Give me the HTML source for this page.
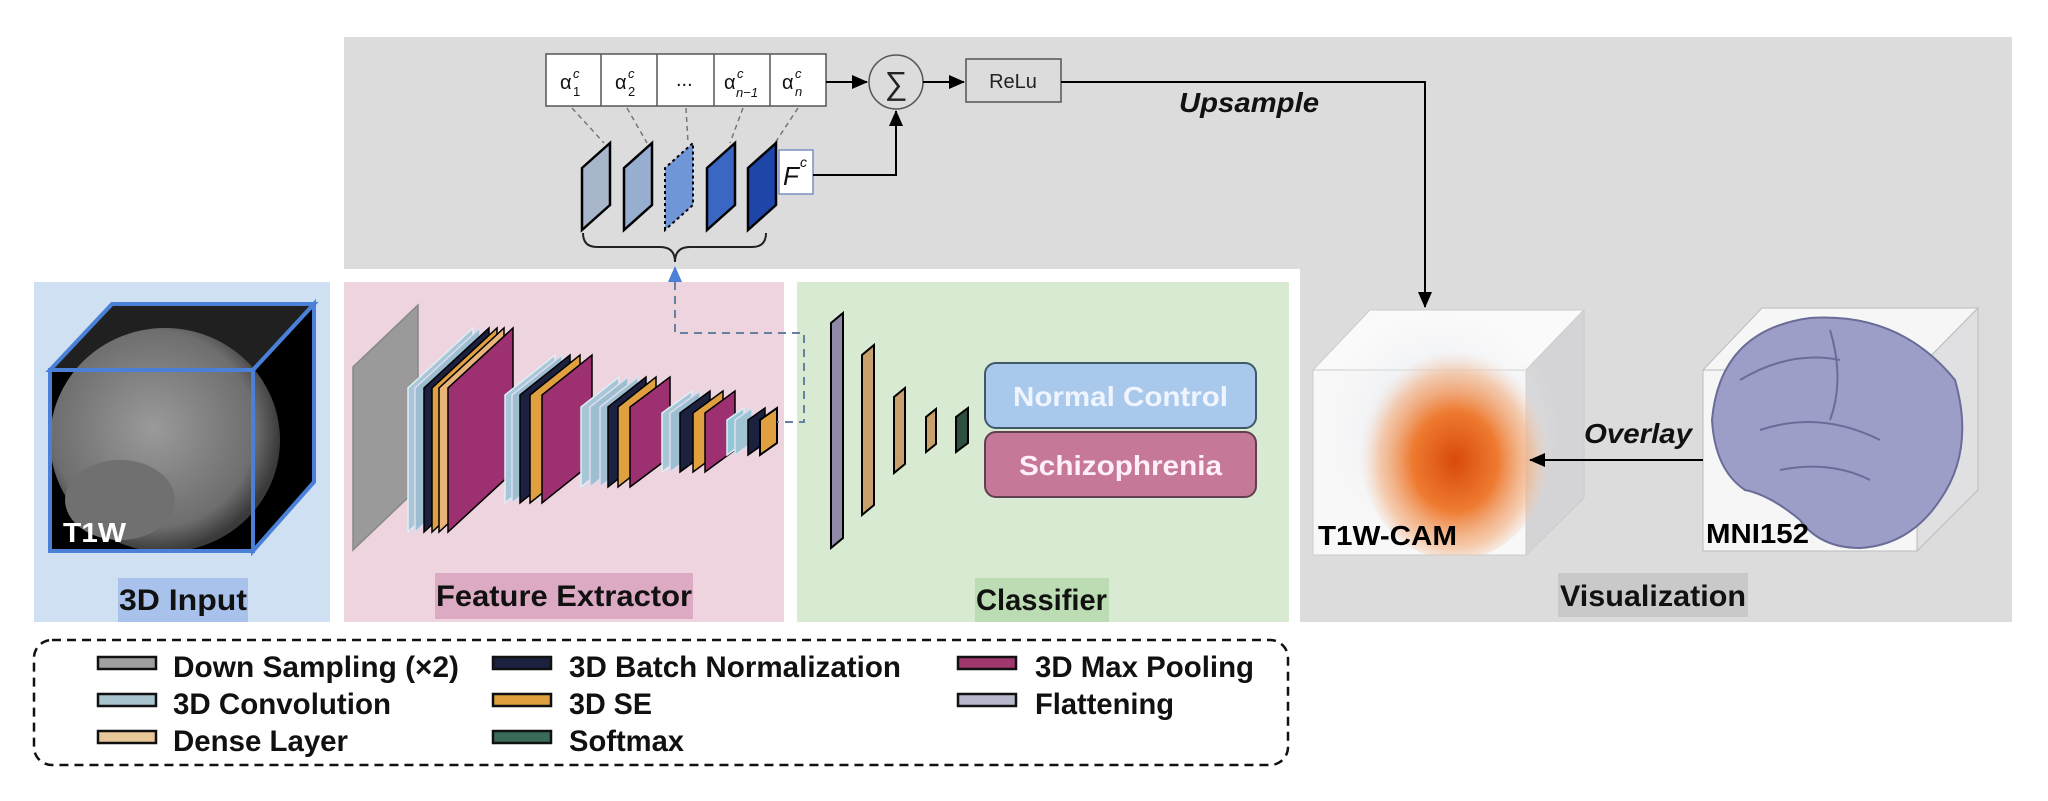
<!DOCTYPE html>
<html><head><meta charset="utf-8"><style>
html,body{margin:0;padding:0;background:#fff;width:2048px;height:801px;overflow:hidden}
svg text{font-family:"Liberation Sans",sans-serif}
</style></head><body>
<svg width="2048" height="801" viewBox="0 0 2048 801" xmlns="http://www.w3.org/2000/svg">
<defs>
<radialGradient id="cam" cx="0.5" cy="0.55" r="0.5">
<stop offset="0" stop-color="#d84a08"/><stop offset="0.45" stop-color="#ee7a30"/><stop offset="0.8" stop-color="#f4b080" stop-opacity="0.6"/><stop offset="1" stop-color="#f4d0b8" stop-opacity="0"/>
</radialGradient>
<radialGradient id="t1" cx="0.45" cy="0.45" r="0.55">
<stop offset="0" stop-color="#9a9a9a"/><stop offset="0.8" stop-color="#6e6e6e"/><stop offset="1" stop-color="#3a3a3a"/>
</radialGradient>
<radialGradient id="ghost" cx="0.5" cy="0.5" r="0.5">
<stop offset="0" stop-color="#dfe2ea"/><stop offset="1" stop-color="#eef0f4" stop-opacity="0"/>
</radialGradient>
<clipPath id="camclip"><polygon points="1313,370 1370,310 1584,310 1584,498 1526,555 1313,555"/></clipPath>
<marker id="ah2" markerWidth="16" markerHeight="14" refX="15" refY="7" orient="auto" markerUnits="userSpaceOnUse"><path d="M0,0 L16,7 L0,14z" fill="#000"/></marker>
</defs>

<rect x="344" y="37" width="1668" height="585" fill="#dcdcdc"/>
<rect x="338" y="269" width="962" height="360" fill="#fff"/>
<rect x="34" y="282" width="296" height="340" fill="#cfe0f2"/>
<rect x="344" y="282" width="440" height="340" fill="#eed4de"/>
<rect x="797" y="282" width="492" height="340" fill="#d8ead2"/>

<g font-size="30" font-weight="bold" fill="#111">
<rect x="118" y="578" width="130" height="44" fill="#a9c2ec"/>
<text x="119" y="610" textLength="128" lengthAdjust="spacingAndGlyphs">3D Input</text>
<rect x="435" y="573" width="258" height="46" fill="#dcaac2"/>
<text x="436" y="606" textLength="256" lengthAdjust="spacingAndGlyphs">Feature Extractor</text>
<rect x="975" y="578" width="134" height="44" fill="#bcdcb4"/>
<text x="976" y="610" textLength="131" lengthAdjust="spacingAndGlyphs">Classifier</text>
<rect x="1558" y="573" width="190" height="44" fill="#c9c9c9"/>
<text x="1560" y="606" textLength="186" lengthAdjust="spacingAndGlyphs">Visualization</text>
</g>

<!-- 3D input cube -->
<polygon points="50,370 112,304 314,304 314,482 253,551 50,551" fill="#000"/>
<polygon points="50,370 112,304 314,304 253,370" fill="#202020"/>
<ellipse cx="165" cy="440" rx="115" ry="112" fill="url(#t1)"/>
<ellipse cx="120" cy="500" rx="55" ry="40" fill="#707070"/>
<g fill="none" stroke="#4a80d8" stroke-width="4">
<polygon points="50,370 112,304 314,304 253,370"/>
<rect x="50" y="370" width="203" height="181"/>
<polygon points="253,370 314,304 314,482 253,551"/>
</g>
<text x="63" y="542" font-size="28" font-weight="bold" fill="#fff" textLength="63" lengthAdjust="spacingAndGlyphs">T1W</text>

<g stroke-width="1.5">
<polygon points="353,550 353,367 418,305 418,488" fill="#9a9a9a" stroke="#888"/>
<polygon points="408,532 408,388 473,328 473,472" fill="#a7c6d8" stroke="#e0eef4"/>
<polygon points="415,532 415,388 480,328 480,472" fill="#9dbdd0" stroke="#dde"/>
<polygon points="424,532 424,388 489,328 489,472" fill="#1c2140" stroke="#000"/>
<polygon points="432,532 432,388 497,328 497,472" fill="#e0a040" stroke="#000"/>
<polygon points="439,532 439,388 504,328 504,472" fill="#e8b47a" stroke="#000"/>
<polygon points="448,532 448,388 513,328 513,472" fill="#9c3070" stroke="#000"/>
<polygon points="505,503 505,395 555,355 555,463" fill="#a7c6d8" stroke="#e0eef4"/>
<polygon points="512,503 512,395 562,355 562,463" fill="#9dbdd0" stroke="#dde"/>
<polygon points="520,503 520,395 570,355 570,463" fill="#1c2140" stroke="#000"/>
<polygon points="530,503 530,395 580,355 580,463" fill="#e0a040" stroke="#000"/>
<polygon points="542,503 542,395 592,355 592,463" fill="#9c3070" stroke="#000"/>
<polygon points="581,487 581,407 619,377 619,457" fill="#a7c6d8" stroke="#e0eef4"/>
<polygon points="590,487 590,407 628,377 628,457" fill="#9dbdd0" stroke="#dde"/>
<polygon points="600,487 600,407 638,377 638,457" fill="#a0c0d2" stroke="#dde"/>
<polygon points="608,487 608,407 646,377 646,457" fill="#1c2140" stroke="#000"/>
<polygon points="618,487 618,407 656,377 656,457" fill="#e0a040" stroke="#000"/>
<polygon points="630,487 630,407 670,377 670,457" fill="#9c3070" stroke="#000"/>
<polygon points="662,472 662,413 692,391 692,450" fill="#a7c6d8" stroke="#e0eef4"/>
<polygon points="670,472 670,413 700,391 700,450" fill="#9dbdd0" stroke="#dde"/>
<polygon points="680,472 680,413 710,391 710,450" fill="#1c2140" stroke="#000"/>
<polygon points="693,472 693,413 723,391 723,450" fill="#e0a040" stroke="#000"/>
<polygon points="705,472 705,413 735,391 735,450" fill="#9c3070" stroke="#000"/>
<polygon points="727,455 727,420 744,408 744,443" fill="#90c8d8" stroke="#e0eef4"/>
<polygon points="735,455 735,420 752,408 752,443" fill="#a0c4d4" stroke="#dde"/>
<polygon points="748,455 748,420 765,408 765,443" fill="#1c2140" stroke="#000"/>
<polygon points="760,455 760,420 777,408 777,443" fill="#e0a040" stroke="#000" stroke-width="2"/>
</g>

<polyline points="675,282 675,333 804,333 804,422 777,422" fill="none" stroke="#6680a0" stroke-width="2" stroke-dasharray="8,6"/>
<polygon points="675,266 668,282 682,282" fill="#4a80d8"/>

<g stroke="#000" stroke-width="2">
<polygon points="831,548 831,323 843,313 843,538" fill="#8f8aa8"/>
<polygon points="862,515 862,355 874,345 874,505" fill="#c8a070"/>
<polygon points="894,473 894,397 905,388 905,464" fill="#c8a070"/>
<polygon points="926,452 926,417 936,409 936,444" fill="#c8a070"/>
<polygon points="956,452 956,417 968,408 968,443" fill="#2d5040"/>
</g>
<rect x="985" y="363" width="271" height="65" rx="11" fill="#a8c8ec" stroke="#405868" stroke-width="2"/>
<text x="1013" y="406" font-size="28" font-weight="bold" fill="#f0f4ff" textLength="215" lengthAdjust="spacingAndGlyphs">Normal Control</text>
<rect x="985" y="432" width="271" height="65" rx="11" fill="#c67898" stroke="#604050" stroke-width="2"/>
<text x="1019" y="475" font-size="28" font-weight="bold" fill="#fff0f8" textLength="203" lengthAdjust="spacingAndGlyphs">Schizophrenia</text>

<rect x="546" y="54" width="280" height="52" fill="#fff" stroke="#555" stroke-width="1.5"/>
<g stroke="#555" stroke-width="1.5"><line x1="601" y1="54" x2="601" y2="106"/><line x1="657" y1="54" x2="657" y2="106"/><line x1="714" y1="54" x2="714" y2="106"/><line x1="770" y1="54" x2="770" y2="106"/></g>
<g font-size="20" fill="#111">
<text x="560" y="89" font-family="Liberation Serif,serif">α</text><text x="573" y="78" font-size="13" font-style="italic" font-family="Liberation Serif,serif">c</text><text x="573" y="96" font-size="13" font-family="Liberation Serif,serif">1</text>
<text x="615" y="89" font-family="Liberation Serif,serif">α</text><text x="628" y="78" font-size="13" font-style="italic" font-family="Liberation Serif,serif">c</text><text x="628" y="96" font-size="13" font-family="Liberation Serif,serif">2</text>
<text x="676" y="86" font-family="Liberation Serif,serif">...</text>
<text x="724" y="89" font-family="Liberation Serif,serif">α</text><text x="737" y="78" font-size="13" font-style="italic" font-family="Liberation Serif,serif">c</text><text x="736" y="97" font-size="13" font-style="italic" font-family="Liberation Serif,serif">n−1</text>
<text x="782" y="89" font-family="Liberation Serif,serif">α</text><text x="795" y="78" font-size="13" font-style="italic" font-family="Liberation Serif,serif">c</text><text x="795" y="96" font-size="13" font-style="italic" font-family="Liberation Serif,serif">n</text>
</g>
<g stroke="#777" stroke-width="1.5" stroke-dasharray="5,4">
<line x1="572" y1="108" x2="604" y2="143"/><line x1="627" y1="108" x2="647" y2="143"/><line x1="686" y1="108" x2="688" y2="143"/><line x1="743" y1="108" x2="730" y2="143"/><line x1="798" y1="108" x2="775" y2="143"/>
</g>
<g stroke="#000" stroke-width="2.5">
<polygon points="582,230 582,168 610,143 610,205" fill="#a8b6cc"/>
<polygon points="624,230 624,168 652,143 652,205" fill="#98aed0"/>
<polygon points="665,230 665,168 693,143 693,205" fill="#6f96d6" stroke-dasharray="3,3" stroke-width="2"/>
<polygon points="707,230 707,168 735,143 735,205" fill="#3a66c4"/>
<polygon points="748,230 748,168 776,143 776,205" fill="#1e45a8"/>
</g>
<rect x="779" y="150" width="34" height="44" fill="#fff" stroke="#7a90c0" stroke-width="1.5"/>
<text x="783" y="185" font-family="Liberation Serif,serif" font-style="italic" font-size="26" fill="#111">F</text>
<text x="800" y="167" font-family="Liberation Serif,serif" font-style="italic" font-size="14" fill="#111">c</text>
<path d="M583,233 Q583,247 597,247 L660,247 Q675,247 675,262 Q675,247 690,247 L752,247 Q766,247 766,233" fill="none" stroke="#222" stroke-width="2"/>
<line x1="826" y1="82" x2="867" y2="82" stroke="#000" stroke-width="2" marker-end="url(#ah2)"/>
<circle cx="896" cy="82" r="27" fill="#dcdcdc" stroke="#555" stroke-width="1.5"/>
<text x="896" y="94" font-size="32" text-anchor="middle" fill="#222" font-family="DejaVu Sans,sans-serif">∑</text>
<polyline points="813,175 896,175 896,111" fill="none" stroke="#000" stroke-width="2" marker-end="url(#ah2)"/>
<line x1="923" y1="82" x2="964" y2="82" stroke="#000" stroke-width="2" marker-end="url(#ah2)"/>
<rect x="966" y="59" width="95" height="43" fill="#dcdcdc" stroke="#555" stroke-width="1.5"/>
<text x="1013" y="88" font-size="20" text-anchor="middle" fill="#222">ReLu</text>
<polyline points="1061,82 1425,82 1425,307" fill="none" stroke="#000" stroke-width="2" marker-end="url(#ah2)"/>
<text x="1179" y="112" font-size="28" font-weight="bold" font-style="italic" fill="#111" textLength="140" lengthAdjust="spacingAndGlyphs">Upsample</text>

<!-- T1W-CAM cube -->
<polygon points="1313,370 1370,310 1584,310 1526,370" fill="#fafafa" stroke="#ccc"/>
<polygon points="1526,370 1584,310 1584,498 1526,555" fill="#d4d4d6" stroke="#ccc"/>
<rect x="1313" y="370" width="213" height="185" fill="#f8f8f8" stroke="#ccc"/>
<g clip-path="url(#camclip)">
<ellipse cx="1440" cy="430" rx="120" ry="120" fill="url(#ghost)"/>
<ellipse cx="1455" cy="450" rx="95" ry="110" fill="url(#cam)"/>
</g>
<text x="1318" y="545" font-size="28" font-weight="bold" fill="#000" textLength="139" lengthAdjust="spacingAndGlyphs">T1W-CAM</text>

<!-- MNI152 cube -->
<polygon points="1703,370 1762,308 1978,308 1917,370" fill="#f6f6f6" stroke="#bbb"/>
<polygon points="1917,370 1978,308 1978,490 1917,551" fill="#e0e0e2" stroke="#bbb"/>
<rect x="1703" y="370" width="214" height="181" fill="#f6f6f6" stroke="#bbb"/>
<path d="M1712,420 Q1720,330 1810,318 Q1900,312 1955,380 Q1975,450 1940,500 Q1910,545 1860,548 Q1820,548 1800,520 Q1770,495 1745,490 Q1715,470 1712,420z" fill="#9c9ec8" stroke="#6a6c98" stroke-width="2"/>
<g stroke="#6a6c98" stroke-width="2" fill="none"><path d="M1740,380 Q1790,350 1840,360"/><path d="M1760,430 Q1820,410 1880,440"/><path d="M1830,330 Q1845,380 1830,420"/><path d="M1780,470 Q1830,460 1870,480"/></g>
<text x="1706" y="543" font-size="28" font-weight="bold" fill="#000" textLength="103" lengthAdjust="spacingAndGlyphs">MNI152</text>
<line x1="1703" y1="460" x2="1530" y2="460" stroke="#000" stroke-width="2" marker-end="url(#ah2)"/>
<text x="1584" y="443" font-size="28" font-weight="bold" font-style="italic" fill="#111" textLength="108" lengthAdjust="spacingAndGlyphs">Overlay</text>

<!-- legend -->
<rect x="34" y="640" width="1254" height="125" rx="18" fill="#fff" stroke="#111" stroke-width="2.5" stroke-dasharray="9,6"/>
<g stroke="#111" stroke-width="2.5">
<rect x="98" y="657" width="58" height="12" fill="#a0a0a0"/>
<rect x="98" y="694" width="58" height="12" fill="#a8c4cc"/>
<rect x="98" y="731" width="58" height="12" fill="#e8c898"/>
<rect x="493" y="657" width="58" height="12" fill="#1c2140"/>
<rect x="493" y="694" width="58" height="12" fill="#e0a040"/>
<rect x="493" y="731" width="58" height="12" fill="#3a6a58"/>
<rect x="958" y="657" width="58" height="12" fill="#a03870"/>
<rect x="958" y="694" width="58" height="12" fill="#b8b8cc"/>
</g>
<g font-size="30" font-weight="bold" fill="#111">
<text x="173" y="677" textLength="286" lengthAdjust="spacingAndGlyphs">Down Sampling (×2)</text>
<text x="173" y="714" textLength="218" lengthAdjust="spacingAndGlyphs">3D Convolution</text>
<text x="173" y="751" textLength="175" lengthAdjust="spacingAndGlyphs">Dense Layer</text>
<text x="569" y="677" textLength="332" lengthAdjust="spacingAndGlyphs">3D Batch Normalization</text>
<text x="569" y="714" textLength="83" lengthAdjust="spacingAndGlyphs">3D SE</text>
<text x="569" y="751" textLength="115" lengthAdjust="spacingAndGlyphs">Softmax</text>
<text x="1035" y="677" textLength="219" lengthAdjust="spacingAndGlyphs">3D Max Pooling</text>
<text x="1035" y="714" textLength="139" lengthAdjust="spacingAndGlyphs">Flattening</text>
</g>
</svg>
</body></html>
